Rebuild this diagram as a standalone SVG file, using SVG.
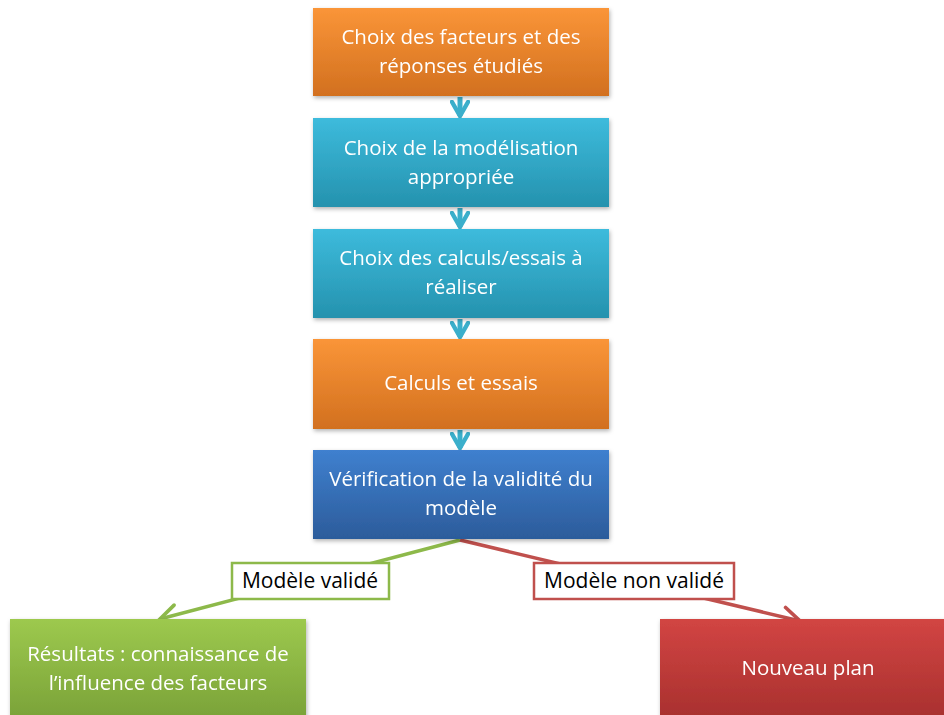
<svg xmlns="http://www.w3.org/2000/svg" width="944" height="715" viewBox="0 0 944 715">
<defs>
<linearGradient id="gOr" x1="0" y1="0" x2="0" y2="1"><stop offset="0" stop-color="#FA9538"/><stop offset="1" stop-color="#D2701F"/></linearGradient>
<linearGradient id="gCy" x1="0" y1="0" x2="0" y2="1"><stop offset="0" stop-color="#3DBBDC"/><stop offset="1" stop-color="#2592AE"/></linearGradient>
<linearGradient id="gBl" x1="0" y1="0" x2="0" y2="1"><stop offset="0" stop-color="#3F80CF"/><stop offset="1" stop-color="#2C5C9B"/></linearGradient>
<linearGradient id="gGr" x1="0" y1="0" x2="0" y2="1"><stop offset="0" stop-color="#9DC94E"/><stop offset="1" stop-color="#7AA238"/></linearGradient>
<linearGradient id="gRd" x1="0" y1="0" x2="0" y2="1"><stop offset="0" stop-color="#D24543"/><stop offset="1" stop-color="#A8302E"/></linearGradient>
<filter id="sh" x="-10%" y="-10%" width="120%" height="130%"><feDropShadow dx="1" dy="2" stdDeviation="2" flood-color="#000" flood-opacity="0.3"/></filter>
<marker id="mC" viewBox="0 0 10 10" refX="8" refY="5" markerWidth="4" markerHeight="4" orient="auto" markerUnits="strokeWidth"><path d="M1,1 L8,5 L1,9" fill="none" stroke="#3BAFCB" stroke-width="2.2" stroke-linecap="round"/></marker>
<marker id="mG" viewBox="0 0 10 10" refX="8" refY="5" markerWidth="7" markerHeight="7" orient="auto" markerUnits="strokeWidth"><path d="M1,1 L8,5 L1,9" fill="none" stroke="#8DB94A" stroke-width="1.5" stroke-linecap="round"/></marker>
<marker id="mR" viewBox="0 0 10 10" refX="8" refY="5" markerWidth="7" markerHeight="7" orient="auto" markerUnits="strokeWidth"><path d="M1,1 L8,5 L1,9" fill="none" stroke="#C0504D" stroke-width="1.5" stroke-linecap="round"/></marker>
</defs>
<style>
.t{font-family:"Open Sans","Liberation Sans",sans-serif;font-size:20.5px;fill:#fff;text-anchor:middle}
.l{font-family:"Open Sans","Liberation Sans",sans-serif;font-size:21px;fill:#000;text-anchor:middle}
.box{filter:url(#sh)}
</style>
<rect width="944" height="715" fill="#fff"/>
<g id="connectors">
<line x1="460" y1="97" x2="460" y2="116" stroke="#3BAFCB" stroke-width="5" marker-end="url(#mC)"/>
<line x1="460" y1="208" x2="460" y2="227" stroke="#3BAFCB" stroke-width="5" marker-end="url(#mC)"/>
<line x1="460" y1="319" x2="460" y2="337" stroke="#3BAFCB" stroke-width="5" marker-end="url(#mC)"/>
<line x1="460" y1="430" x2="460" y2="448" stroke="#3BAFCB" stroke-width="5" marker-end="url(#mC)"/>
<line x1="460" y1="540" x2="160" y2="619" stroke="#8DB94A" stroke-width="3.5" marker-end="url(#mG)"/>
<line x1="460" y1="540" x2="800" y2="621" stroke="#C0504D" stroke-width="3.5" marker-end="url(#mR)"/>
</g>
<g id="n1" class="box"><rect x="313" y="8" width="296" height="88" fill="url(#gOr)"/><text class="t" x="461" y="44">Choix des facteurs et des</text><text class="t" x="461" y="73">réponses étudiés</text></g>
<g id="n2" class="box"><rect x="313" y="118" width="296" height="89" fill="url(#gCy)"/><text class="t" x="461" y="155">Choix de la modélisation</text><text class="t" x="461" y="184">appropriée</text></g>
<g id="n3" class="box"><rect x="313" y="229" width="296" height="89" fill="url(#gCy)"/><text class="t" x="461" y="265">Choix des calculs/essais à</text><text class="t" x="461" y="294">réaliser</text></g>
<g id="n4" class="box"><rect x="313" y="339" width="296" height="90" fill="url(#gOr)"/><text class="t" x="461" y="390">Calculs et essais</text></g>
<g id="n5" class="box"><rect x="313" y="450" width="296" height="89" fill="url(#gBl)"/><text class="t" x="461" y="486">Vérification de la validité du</text><text class="t" x="461" y="515">modèle</text></g>
<g id="lab1"><rect x="232" y="563" width="157" height="36" fill="#fff" stroke="#8DB94A" stroke-width="2.5"/><text class="l" x="310" y="588">Modèle validé</text></g>
<g id="lab2"><rect x="534" y="563" width="200" height="36" fill="#fff" stroke="#C0504D" stroke-width="2.5"/><text class="l" x="634" y="588">Modèle non validé</text></g>
<g id="n6" class="box"><rect x="10" y="619" width="296" height="100" fill="url(#gGr)"/><text class="t" x="158" y="661">Résultats : connaissance de</text><text class="t" x="158" y="690">l’influence des facteurs</text></g>
<g id="n7" class="box"><rect x="660" y="619" width="290" height="100" fill="url(#gRd)"/><text class="t" x="808" y="675">Nouveau plan</text></g>
</svg>
